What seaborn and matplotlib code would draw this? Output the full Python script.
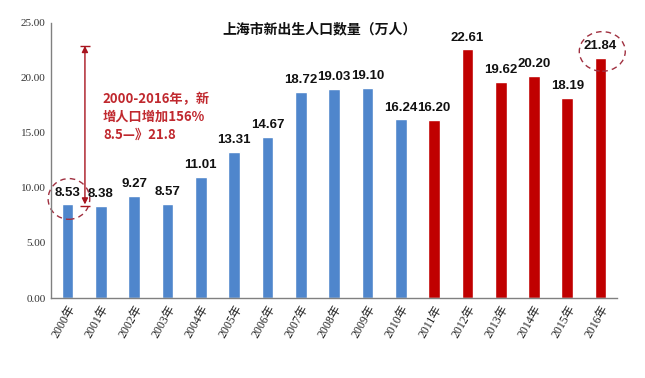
import matplotlib
matplotlib.use("Agg")
import matplotlib.pyplot as plt
from matplotlib.patches import Ellipse
import seaborn as sns
import pandas as pd

years = ["2000年", "2001年", "2002年", "2003年", "2004年", "2005年", "2006年", "2007年", "2008年",
         "2009年", "2010年", "2011年", "2012年", "2013年", "2014年", "2015年", "2016年"]
births = [8.53, 8.38, 9.27, 8.57, 11.01, 13.31, 14.67, 18.72, 19.03, 19.10, 16.24, 16.20,
          22.61, 19.62, 20.20, 18.19, 21.84]
period = ["before"] * 11 + ["after"] * 6
yticks = [0, 5, 10, 15, 20, 25]
title = "上海市新出生人口数量（万人）"
note = "2000-2016年，新\n增人口增加156%\n8.5—》21.8"
arrow_from, arrow_to = 8.5, 22.9

df = pd.DataFrame({"year": years, "births": births, "period": period})

sns.set_theme(style="white")
plt.rcParams["font.family"] = ["Liberation Sans", "Noto Sans CJK SC"]

fig = plt.figure(figsize=(6.45, 3.78), dpi=100)
ax = fig.add_axes([0.079, 0.2116, 0.878, 0.728])

sns.barplot(data=df, x="year", y="births", hue="period",
            palette={"before": "#4F86CC", "after": "#C00000"},
            dodge=False, width=0.35, legend=False, ax=ax, saturation=1)

ax.set_ylim(0, 25)
ax.set_xlim(-0.5, len(years) - 0.5)
ax.set_yticks(yticks)
ax.set_yticklabels([f"{t:.2f}" for t in yticks], family=["Liberation Serif"], fontsize=8, color="#333333")
ax.set_xticks(range(len(years)))
ax.set_xticklabels(years, rotation=60, ha="right", rotation_mode="anchor",
                   family=["Liberation Serif", "Noto Sans CJK SC"], fontsize=8.5, color="#222222")
ax.tick_params(axis="both", length=0, pad=4)
ax.set_xlabel("")
ax.set_ylabel("")
for s in ["top", "right"]:
    ax.spines[s].set_visible(False)
for s in ["left", "bottom"]:
    ax.spines[s].set_color("#808080")
    ax.spines[s].set_linewidth(1.0)

for i, v in enumerate(births):
    ax.annotate(f"{v:.2f}", xy=(i, v), xytext=(0, 4), textcoords="offset points",
                ha="center", va="bottom", fontsize=9.5, fontweight="bold", color="#111111")

fig.text(0.496, 0.921, title, ha="center", va="center", fontsize=10, fontweight="bold",
         family=["Noto Sans CJK SC"], color="#111111")

# arrow
ax.annotate("", xy=(0.52, arrow_from), xytext=(0.52, arrow_to),
            arrowprops=dict(arrowstyle="<|-|>", color="#A8141E", lw=1.0,
                            mutation_scale=9, shrinkA=0, shrinkB=0))
ax.hlines([arrow_from - 0.1, arrow_to], 0.38, 0.66, color="#A8141E", lw=1.0)

ax.text(1.06, 18.7, note, ha="left", va="top", fontsize=9.5, fontweight="bold",
        color="#C0282E", linespacing=1.35, family=["Noto Sans CJK SC"])

ax.add_patch(Ellipse((0.04, 9.0), 1.25, 3.7, fill=False, ls=(0, (4, 3)),
                     ec="#A03040", lw=1.0, clip_on=False))
ax.add_patch(Ellipse((16.05, 22.4), 1.38, 3.6, fill=False, ls=(0, (4, 3)),
                     ec="#A03040", lw=1.0, clip_on=False))

fig.savefig("out.png", dpi=100)
